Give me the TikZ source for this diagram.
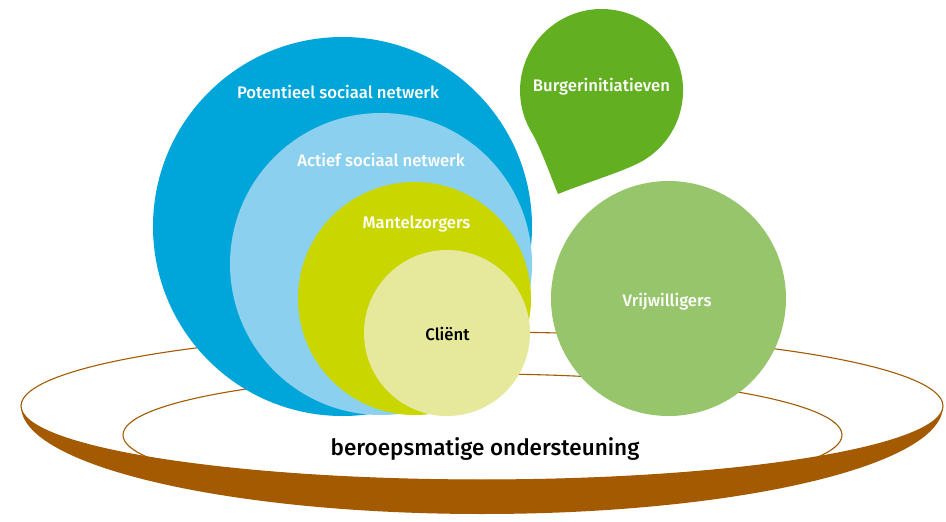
\documentclass[tikz,border=0pt]{standalone}
\usepackage{fontspec}
\setmainfont{Fira Sans}[BoldFont={Fira Sans Medium}]
\definecolor{cblue}{HTML}{00A6D9}
\definecolor{clblue}{HTML}{8BD0EE}
\definecolor{cyg}{HTML}{CAD600}
\definecolor{cpale}{HTML}{E6E99B}
\definecolor{cdrop}{HTML}{62AF22}
\definecolor{cvrij}{HTML}{97C56C}
\definecolor{cbrown}{HTML}{A45A00}
\begin{document}
\begin{tikzpicture}[x=1pt,y=-1pt,
  disc/.style={circle,inner sep=0pt,draw=none},
  lbl/.style={anchor=base,text=white,font=\fontsize{16.7}{20}\selectfont\bfseries,inner sep=0pt},
  rim/.style={draw=cbrown,line width=1.1pt}]
\useasboundingbox (0,0) rectangle (946,522);
% plate
\draw[rim,fill=white] (482,406) ellipse [x radius=461,y radius=74];
\draw[rim] (482.5,435) ellipse [x radius=359.5,y radius=61];
\fill[cbrown] (21,406) arc[start angle=180,end angle=0,x radius=461,y radius=108]
   arc[start angle=0,end angle=180,x radius=461,y radius=74] -- cycle;
% nested circles
\node[disc,fill=cblue,minimum size=379pt] (pot) at (342.5,226.5) {};
\node[disc,fill=clblue,minimum size=302pt] (act) at (381,264) {};
\node[disc,fill=cyg,minimum size=233pt] (man) at (414.5,298.5) {};
\node[disc,fill=cpale,minimum size=166pt] (cli) at (447,333) {};
% drop
\fill[cdrop] (642.3,161.1) arc[start angle=60,end angle=-210,radius=81.5]
  .. controls (541,148) and (552,180) .. (558,194)
  .. controls (585,183) and (625,171) .. cycle;
\coordinate (drop) at (601.5,90.5);
% volunteers
\node[disc,fill=cvrij,minimum size=235pt] (vrij) at (668.5,298.5) {};
% labels
\node[lbl] (tpot) at (338,98) {Potentieel sociaal netwerk};
\node[lbl] (tact) at (381,166) {Actief sociaal netwerk};
\node[lbl] (tman) at (416.5,228) {Mantelzorgers};
\node[lbl,text=black] (tcli) at (447.5,340) {Cliënt};
\node[lbl] (tdrop) at (601.5,91) {Burgerinitiatieven};
\node[lbl] (tvrij) at (667,306) {Vrijwilligers};
\node[anchor=base,inner sep=0pt,font=\fontsize{22.5}{27}\selectfont\bfseries,text=black] (tber) at (485,455) {beroepsmatige ondersteuning};
\end{tikzpicture}
\end{document}
